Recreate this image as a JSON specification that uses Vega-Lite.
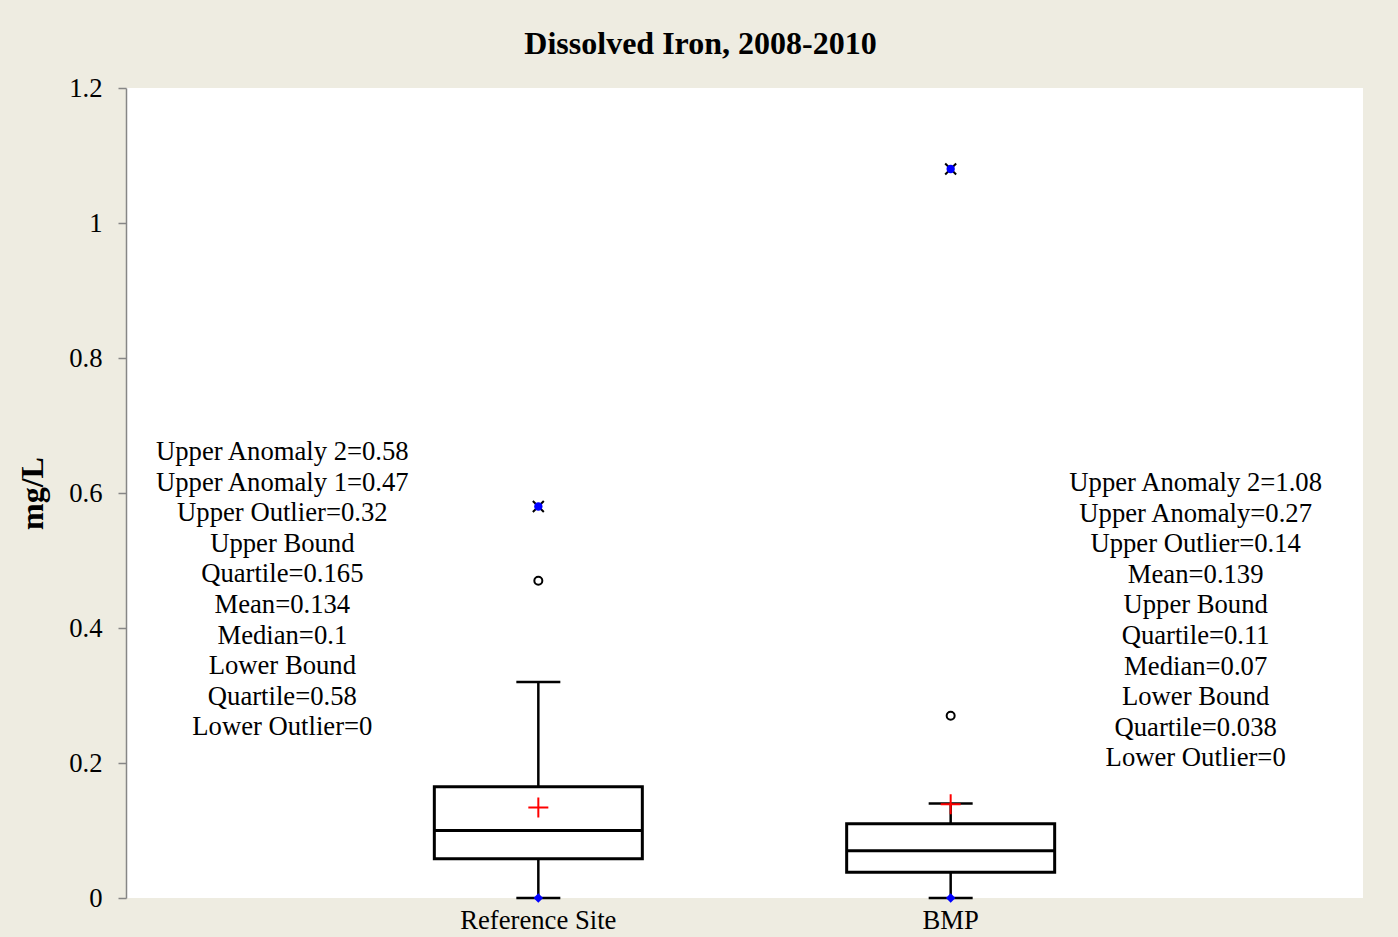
{
  "$schema": "https://vega.github.io/schema/vega-lite/v6.json",
  "width": 1237,
  "height": 810,
  "autosize": "none",
  "padding": {"left": 126, "top": 88, "right": 35, "bottom": 39},
  "background": "#EEECE1",
  "config": {"view": {"fill": "white", "stroke": null}, "font": "Liberation Serif"},
  "title": {"text": "Dissolved Iron, 2008-2010", "font": "Liberation Serif", "fontSize": 32, "fontWeight": "bold", "color": "black", "anchor": "middle", "dx": -44, "offset": 14},
  "datasets": {
    "stats": [
      {"site": "Reference Site", "low": 0, "q1": 0.058, "median": 0.1, "q3": 0.165, "high": 0.32, "mean": 0.134},
      {"site": "BMP", "low": 0, "q1": 0.038, "median": 0.07, "q3": 0.11, "high": 0.14, "mean": 0.139}
    ],
    "points": [
      {"site": "Reference Site", "kind": "Outlier", "value": 0.47},
      {"site": "BMP", "kind": "Outlier", "value": 0.27},
      {"site": "Reference Site", "kind": "Anomaly", "value": 0.58},
      {"site": "BMP", "kind": "Anomaly", "value": 1.08},
      {"site": "Reference Site", "kind": "Lower", "value": 0},
      {"site": "BMP", "kind": "Lower", "value": 0}
    ]
  },
  "encoding": {
    "x": {
      "field": "site", "type": "nominal", "sort": ["Reference Site", "BMP"],
      "scale": {"domain": ["Reference Site", "BMP"], "paddingInner": 0.5, "paddingOuter": 0.75},
      "axis": {"title": null, "domain": false, "ticks": false, "labelAngle": 0, "labelFont": "Liberation Serif", "labelFontSize": 26.67, "labelColor": "black", "labelPadding": 9}
    }
  },
  "layer": [
    {
      "data": {"name": "stats"},
      "mark": {"type": "rule", "stroke": "black", "strokeWidth": 2.5},
      "encoding": {
        "y": {"field": "low", "type": "quantitative",
          "scale": {"domain": [0, 1.2], "nice": false, "zero": true},
          "axis": {"title": "mg/L", "values": [0, 0.2, 0.4, 0.6, 0.8, 1, 1.2], "format": "~g", "grid": false,
            "domainColor": "#868686", "domainWidth": 1.5, "tickColor": "#868686", "tickWidth": 1.5, "tickSize": 8,
            "labelFont": "Liberation Serif", "labelFontSize": 26.67, "labelColor": "black", "labelPadding": 16,
            "titleFont": "Liberation Serif", "titleFontSize": 32, "titleFontWeight": "bold", "titleColor": "black", "titlePadding": 19}},
        "y2": {"field": "high"}
      }
    },
    {
      "data": {"name": "stats"},
      "mark": {"type": "tick", "color": "black", "opacity": 1, "size": 44, "thickness": 2.5},
      "encoding": {"y": {"field": "low", "type": "quantitative"}}
    },
    {
      "data": {"name": "stats"},
      "mark": {"type": "tick", "color": "black", "opacity": 1, "size": 44, "thickness": 2.5},
      "encoding": {"y": {"field": "high", "type": "quantitative"}}
    },
    {
      "data": {"name": "stats"},
      "mark": {"type": "bar", "fill": "white", "stroke": "black", "strokeWidth": 3, "size": 208, "opacity": 1},
      "encoding": {"y": {"field": "q1", "type": "quantitative"}, "y2": {"field": "q3"}}
    },
    {
      "data": {"name": "stats"},
      "mark": {"type": "tick", "color": "black", "opacity": 1, "size": 208, "thickness": 3},
      "encoding": {"y": {"field": "median", "type": "quantitative"}}
    },
    {
      "data": {"name": "stats"},
      "mark": {"type": "point", "shape": "M-1,0H1M0,-1V1", "filled": false, "stroke": "red", "strokeWidth": 2, "size": 400, "opacity": 1},
      "encoding": {"y": {"field": "mean", "type": "quantitative"}}
    },
    {
      "data": {"name": "points"},
      "transform": [{"filter": "datum.kind === 'Outlier'"}],
      "mark": {"type": "point", "shape": "circle", "filled": false, "stroke": "black", "strokeWidth": 2, "size": 64, "opacity": 1},
      "encoding": {"y": {"field": "value", "type": "quantitative"}}
    },
    {
      "data": {"name": "points"},
      "transform": [{"filter": "datum.kind === 'Anomaly'"}],
      "mark": {"type": "point", "shape": "M-1,-1L1,1M1,-1L-1,1", "filled": false, "stroke": "black", "strokeWidth": 2, "size": 120, "opacity": 1},
      "encoding": {"y": {"field": "value", "type": "quantitative"}}
    },
    {
      "data": {"name": "points"},
      "transform": [{"filter": "datum.kind === 'Anomaly'"}],
      "mark": {"type": "point", "shape": "circle", "filled": true, "fill": "#0000FF", "size": 70, "opacity": 1},
      "encoding": {"y": {"field": "value", "type": "quantitative"}}
    },
    {
      "data": {"name": "points"},
      "transform": [{"filter": "datum.kind === 'Lower'"}],
      "mark": {"type": "point", "shape": "diamond", "filled": true, "fill": "#0000FF", "size": 90, "opacity": 1},
      "encoding": {"y": {"field": "value", "type": "quantitative"}}
    },
    {
      "data": {"values": [{"site": "Reference Site", "label": "Upper Anomaly 2=0.58\nUpper Anomaly 1=0.47\nUpper Outlier=0.32\nUpper Bound\nQuartile=0.165\nMean=0.134\nMedian=0.1\nLower Bound\nQuartile=0.58\nLower Outlier=0"}]},
      "mark": {"type": "text", "font": "Liberation Serif", "fontSize": 26.67, "lineHeight": 30.6, "lineBreak": "\n", "align": "center", "baseline": "middle", "dx": -256, "color": "black"},
      "encoding": {"y": {"datum": 0.6607}, "text": {"field": "label"}}
    },
    {
      "data": {"values": [{"site": "BMP", "label": "Upper Anomaly 2=1.08\nUpper Anomaly=0.27\nUpper Outlier=0.14\nMean=0.139\nUpper Bound\nQuartile=0.11\nMedian=0.07\nLower Bound\nQuartile=0.038\nLower Outlier=0"}]},
      "mark": {"type": "text", "font": "Liberation Serif", "fontSize": 26.67, "lineHeight": 30.6, "lineBreak": "\n", "align": "center", "baseline": "middle", "dx": 245, "color": "black"},
      "encoding": {"y": {"datum": 0.6148}, "text": {"field": "label"}}
    }
  ]
}
